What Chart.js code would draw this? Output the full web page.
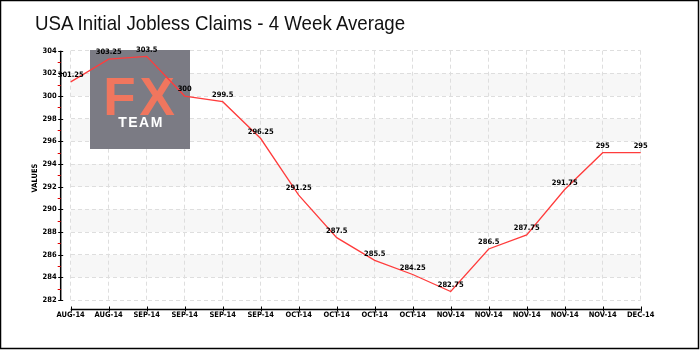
<!DOCTYPE html>
<html>
<head>
<meta charset="utf-8">
<script src="https://cdn.jsdelivr.net/npm/chart.js@4.4.0/dist/chart.umd.min.js"></script>
<style>
  html, body { margin: 0; padding: 0; background: #fff; }
  #wrap { position: relative; width: 700px; height: 350px; }
  #title { position: absolute; left: 35px; top: 12px; font: 21px "Liberation Sans Narrow", sans-serif; line-height: 21px; color: #111; white-space: nowrap; transform: scaleX(0.89); transform-origin: 0 0; }
  canvas { position: absolute; left: 0; top: 0; }
</style>
</head>
<body>
<div id="wrap">
  <canvas id="c" width="700" height="350"></canvas>
  <div id="title">USA Initial Jobless Claims - 4 Week Average</div>
</div>
<script>
// Weekly categories and the 4-week average of initial claims (thousands)
const categories = ['AUG-14','AUG-14','SEP-14','SEP-14','SEP-14','SEP-14','OCT-14','OCT-14','OCT-14','OCT-14','NOV-14','NOV-14','NOV-14','NOV-14','NOV-14','DEC-14'];
const claims = [301.25, 303.25, 303.5, 300, 299.5, 296.25, 291.25, 287.5, 285.5, 284.25, 282.75, 286.5, 287.75, 291.75, 295, 295];
const yMin = 282;
const yMax = 304;
const yStep = 2;

const smallFont = { family: '"DejaVu Sans Condensed", sans-serif', size: 7.5, weight: 'bold' };
const smallFontCss = 'bold 7.5px "DejaVu Sans Condensed", sans-serif';

// Alternating horizontal bands behind the grid
const bandsPlugin = {
  id: 'bands',
  beforeDraw(chart) {
    const { ctx, chartArea } = chart;
    const y = chart.scales.y;
    ctx.save();
    ctx.fillStyle = '#f7f7f7';
    for (let v = yMin + yStep; v < yMax; v += yStep * 2) {
      const top = y.getPixelForValue(v + yStep);
      const bot = y.getPixelForValue(v);
      ctx.fillRect(chartArea.left, top, chartArea.right - chartArea.left, bot - top);
    }
    ctx.restore();
  }
};

// FX TEAM badge in the upper left of the plot
const badgePlugin = {
  id: 'badge',
  beforeDatasetsDraw(chart) {
    const { ctx } = chart;
    ctx.save();
    ctx.fillStyle = '#7b7b84';
    ctx.fillRect(90, 50, 100, 99);
    ctx.textAlign = 'center';
    ctx.textBaseline = 'alphabetic';
    ctx.fillStyle = '#f0765e';
    ctx.font = 'bold 53px "Liberation Sans", sans-serif';
    ctx.letterSpacing = '4px';
    ctx.fillText('FX', 141, 115);
    ctx.fillStyle = '#ffffff';
    ctx.font = 'bold 14px "Liberation Sans", sans-serif';
    ctx.letterSpacing = '1.5px';
    ctx.fillText('TEAM', 141, 127);
    ctx.restore();
  }
};

// Value labels above each point
const valueLabelsPlugin = {
  id: 'valueLabels',
  afterDatasetsDraw(chart) {
    const { ctx } = chart;
    const meta = chart.getDatasetMeta(0);
    ctx.save();
    ctx.font = smallFontCss;
    ctx.fillStyle = '#000';
    ctx.textAlign = 'center';
    ctx.textBaseline = 'bottom';
    meta.data.forEach((pt, i) => {
      ctx.fillText(String(claims[i]), pt.x, pt.y - 3);
    });
    ctx.restore();
  }
};

// Detached axis lines with major and minor ticks, axis title and frame
const axesPlugin = {
  id: 'axes',
  afterDraw(chart) {
    const { ctx, chartArea } = chart;
    const x = chart.scales.x;
    const y = chart.scales.y;
    const axisX = chartArea.left - 10;
    const axisY = chartArea.bottom + 9.5;
    ctx.save();
    ctx.strokeStyle = '#000';
    ctx.lineWidth = 1.5;
    // y axis
    ctx.beginPath();
    ctx.moveTo(axisX, y.getPixelForValue(yMax));
    ctx.lineTo(axisX, y.getPixelForValue(yMin));
    ctx.stroke();
    ctx.lineWidth = 1;
    for (let v = yMin; v <= yMax; v += yStep) {
      const py = Math.round(y.getPixelForValue(v)) + 0.5;
      ctx.beginPath();
      ctx.moveTo(axisX - 2.5, py);
      ctx.lineTo(axisX + 2.5, py);
      ctx.stroke();
    }
    ctx.strokeStyle = '#e00000';
    for (let v = yMin + yStep / 2; v < yMax; v += yStep) {
      const py = Math.round(y.getPixelForValue(v)) + 0.5;
      ctx.beginPath();
      ctx.moveTo(axisX - 3, py);
      ctx.lineTo(axisX, py);
      ctx.stroke();
    }
    // x axis
    ctx.strokeStyle = '#000';
    ctx.lineWidth = 1.5;
    ctx.beginPath();
    ctx.moveTo(x.getPixelForValue(0), axisY);
    ctx.lineTo(x.getPixelForValue(categories.length - 1), axisY);
    ctx.stroke();
    ctx.lineWidth = 1;
    for (let i = 0; i < categories.length; i++) {
      const px = Math.round(x.getPixelForValue(i)) + 0.5;
      ctx.beginPath();
      ctx.moveTo(px, axisY - 3);
      ctx.lineTo(px, axisY + 2);
      ctx.stroke();
    }
    // y axis title
    ctx.fillStyle = '#000';
    ctx.font = smallFontCss;
    ctx.textAlign = 'center';
    ctx.textBaseline = 'middle';
    ctx.translate(35, 178);
    ctx.rotate(-Math.PI / 2);
    ctx.fillText('VALUES', 0, 0);
    ctx.setTransform(1, 0, 0, 1, 0, 0);
    // outer frame
    ctx.lineWidth = 1.5;
    ctx.strokeRect(0.5, 0.5, 698, 348);
    ctx.restore();
  }
};

new Chart(document.getElementById('c'), {
  type: 'line',
  data: {
    labels: categories,
    datasets: [{
      data: claims,
      borderColor: '#ff3c3c',
      borderWidth: 1.3,
      pointRadius: 0,
      tension: 0,
      fill: false
    }]
  },
  options: {
    responsive: false,
    animation: false,
    layout: { padding: { left: 0, top: 50.7, right: 59.3, bottom: 0 } },
    plugins: {
      legend: { display: false },
      tooltip: { enabled: false },
      title: { display: false }
    },
    scales: {
      x: {
        type: 'category',
        offset: false,
        grid: { color: '#dedede', lineWidth: 1, drawTicks: false },
        border: { display: false, dash: [4, 3] },
        ticks: { font: smallFont, color: '#000', padding: 11, maxRotation: 0, autoSkip: false },
        afterFit(s) { s.height = 50; }
      },
      y: {
        min: yMin,
        max: yMax,
        grid: { color: '#dedede', lineWidth: 1, drawTicks: false },
        border: { display: false, dash: [4, 3] },
        ticks: { stepSize: yStep, font: smallFont, color: '#000', padding: 14 },
        afterFit(s) { s.width = 70.7; }
      }
    }
  },
  plugins: [bandsPlugin, badgePlugin, valueLabelsPlugin, axesPlugin]
});
</script>
</body>
</html>
